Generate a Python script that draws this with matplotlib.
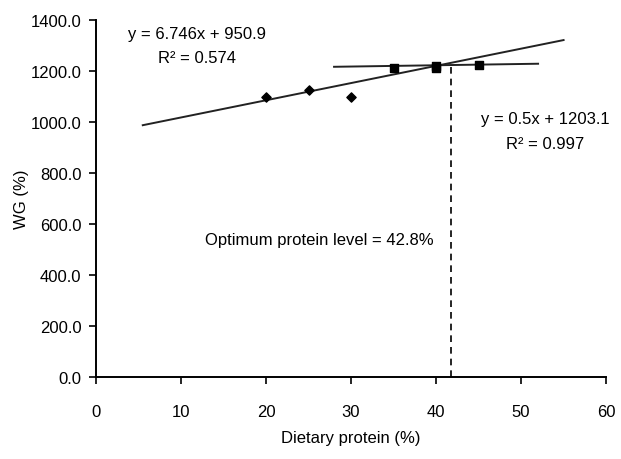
import matplotlib.pyplot as plt
import numpy as np

# data points
low_x = [20, 25, 30]
low_y = [1100, 1125, 1097]
high_x = [35, 40, 40, 45]
high_y = [1213, 1222, 1212, 1224]

# regression lines: (slope, intercept, x start, x end)
line1 = (6.746, 950.9, 5.5, 55.0)
line2 = (0.5, 1203.1, 28.0, 52.0)
optimum_x = 41.7

plt.rcParams['font.family'] = ['Liberation Sans Narrow', 'Liberation Sans', 'DejaVu Sans']

fig = plt.figure(figsize=(6.21, 4.6), dpi=100)
ax = fig.add_axes([0.1546, 0.178, 0.8214, 0.776])

for m, b, x0, x1 in (line1, line2):
    xs = np.array([x0, x1])
    ax.plot(xs, m * xs + b, color='#222222', lw=1.4)

ax.scatter(low_x, low_y, marker='D', s=22, color='black', zorder=3)
ax.scatter(high_x, high_y, marker='s', s=40, color='black', zorder=3)

ax.plot([optimum_x, optimum_x], [0, 0.5 * optimum_x + 1203.1], color='black',
        lw=1.2, ls=(0, (4, 3)))

ax.text(11.9, 1348, 'y = 6.746x + 950.9', ha='center', va='center', fontsize=12)
ax.text(11.9, 1252, 'R² = 0.574', ha='center', va='center', fontsize=12)
ax.text(52.8, 1015, 'y = 0.5x + 1203.1', ha='center', va='center', fontsize=12)
ax.text(52.8, 918, 'R² = 0.997', ha='center', va='center', fontsize=12)
ax.text(26.3, 540, 'Optimum protein level = 42.8%', ha='center', va='center', fontsize=12)

ax.set_xlim(0, 60)
ax.set_ylim(0, 1400)
ax.set_xticks(range(0, 61, 10))
ax.set_yticks(range(0, 1401, 200))
ax.set_yticklabels([f'{v:.1f}' for v in range(0, 1401, 200)])
ax.tick_params(labelsize=12, direction='out', length=5, width=1.2)
ax.tick_params(axis='x', pad=14)
ax.tick_params(axis='y', pad=5.5)
ax.spines['top'].set_visible(False)
ax.spines['right'].set_visible(False)
for s in ('left', 'bottom'):
    ax.spines[s].set_linewidth(1.4)

ax.set_xlabel('Dietary protein (%)', fontsize=12, labelpad=8)
ax.set_ylabel('WG (%)', fontsize=12, labelpad=1)

fig.savefig('out.png', dpi=100)
